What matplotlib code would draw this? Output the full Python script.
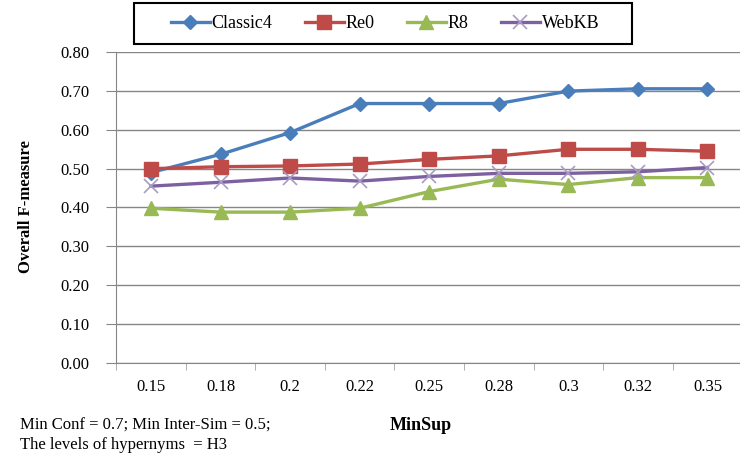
import matplotlib.pyplot as plt
from matplotlib.patches import Rectangle

minsup = ["0.15", "0.18", "0.2", "0.22", "0.25", "0.28", "0.3", "0.32", "0.35"]
classic4 = [0.49, 0.537, 0.593, 0.668, 0.668, 0.668, 0.70, 0.706, 0.706]
re0 = [0.50, 0.505, 0.507, 0.512, 0.524, 0.533, 0.55, 0.55, 0.545]
r8 = [0.398, 0.388, 0.388, 0.398, 0.441, 0.473, 0.459, 0.477, 0.477]
webkb = [0.455, 0.465, 0.476, 0.468, 0.480, 0.488, 0.488, 0.492, 0.503]
yticks = [0.0, 0.1, 0.2, 0.3, 0.4, 0.5, 0.6, 0.7, 0.8]

plt.rcParams['font.family'] = ['Liberation Serif', 'DejaVu Serif']

fig = plt.figure(figsize=(7.4, 4.59), dpi=100)
ax = fig.add_axes([0.157, 0.21, 0.846, 0.676])

x = list(range(len(minsup)))
ax.plot(x, classic4, color="#4A7EBB", lw=2.4, marker="D", ms=7, label="Classic4")
ax.plot(x, re0, color="#BE4B48", lw=2.4, marker="s", ms=10, label="Re0")
ax.plot(x, r8, color="#98B954", lw=2.4, marker="^", ms=10, label="R8")
ax.plot(x, webkb, color="#7D60A0", lw=2.4, marker="x", ms=10, mew=1.2,
        mec="#A99BC4", label="WebKB")

ax.set_xlim(-0.5, 8.45)
ax.set_ylim(0, 0.8)
ax.set_yticks(yticks)
ax.set_yticklabels(["%.2f" % v for v in yticks], fontsize=12)
ax.set_xticks(x)
ax.set_xticklabels(minsup, fontsize=12)
ax.set_xticks([i + 0.5 for i in range(-1, 9)], minor=True)
ax.tick_params(axis="x", which="major", length=0, pad=12)
ax.tick_params(axis="x", which="minor", length=5, color="#A0A0A0")
ax.tick_params(axis="y", length=7, color="#868686", pad=12)
ax.grid(axis="y", color="#868686", lw=1)
ax.set_axisbelow(True)
for s in ["top", "right"]:
    ax.spines[s].set_visible(False)
ax.spines["left"].set_color("#868686")
ax.spines["bottom"].set_color("#868686")

fig.text(0.035, 0.55, "Overall F-measure", rotation=90, fontsize=12,
         fontweight="bold", ha="center", va="center")
fig.text(0.527, 0.072, "MinSup", fontsize=13, fontweight="bold", ha="left", va="center")
fig.text(0.027, 0.072, "Min Conf = 0.7; Min Inter-Sim = 0.5;", fontsize=12, va="center")
fig.text(0.027, 0.030, "The levels of hypernyms  = H3", fontsize=12, va="center")

# legend box drawn by hand, entries centred inside it
fig.patches.append(Rectangle((134 / 740, 1 - 44 / 459), 498 / 740, 41 / 459,
                             transform=fig.transFigure, fill=False,
                             edgecolor="black", lw=1.5))
fig.legend(loc="center", bbox_to_anchor=(385 / 740, 1 - 23.5 / 459), ncol=4,
           fontsize=13, frameon=False, handlelength=2.15, handletextpad=0.1,
           columnspacing=1.8)

fig.savefig("out.png", dpi=100)
